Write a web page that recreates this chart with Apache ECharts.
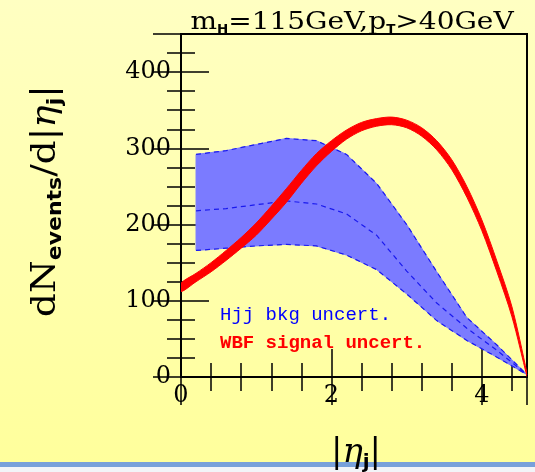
<!DOCTYPE html>
<html>
<head>
<meta charset="utf-8">
<script src="https://cdn.jsdelivr.net/npm/echarts@6/dist/echarts.min.js"></script>
<style>
  html, body { margin: 0; padding: 0; }
  #chart {
    width: 535px; height: 472px;
    background: linear-gradient(to bottom, #FFFFC2 0px, #FFFF9C 462px, #78A0DA 462px, #78A0DA 467px, #F2F4F8 467px);
  }
</style>
</head>
<body>
<div id="chart"></div>
<script>
// |eta_j| sample points of the WBF signal band
const etaSig = [0, 0.2, 0.4, 0.6, 0.8, 1.0, 1.2, 1.4, 1.6, 1.8, 2.0, 2.2, 2.4, 2.6, 2.8, 3.0, 3.2, 3.4, 3.6, 3.8, 4.0, 4.2, 4.4, 4.6];
const sigLow  = [112, 125, 138, 153, 169, 186, 207, 229, 254, 277, 296, 312, 323, 329, 331, 327, 316, 298, 272, 236, 192, 138, 79, 1];
const sigHigh = [123, 136, 150, 166, 183, 202, 224, 247, 271, 293, 310, 324, 334, 339, 341, 337, 327, 310, 285, 250, 206, 152, 92, 5];

// |eta_j| sample points of the Hjj background band
const etaBkg  = [0.2, 0.6, 1.0, 1.4, 1.8, 2.2, 2.6, 3.0, 3.4, 3.8, 4.2, 4.6];
const bkgHigh = [292, 297, 305, 313, 310, 292, 254, 200, 138, 78, 42, 3];
const bkgMid  = [218, 221, 226, 231, 227, 214, 186, 139, 97, 64, 35, 3];
const bkgLow  = [166, 169, 172, 174, 172, 160, 141, 109, 74, 48, 26, 3];

// labelled ticks
const xTickLabels = [0, 2, 4];
const yTickLabels = [0, 100, 200, 300, 400];

const X_MAX = 4.6, Y_MAX = 450;
const SERIF = 'DejaVu Serif';

const pairs = (xs, ys) => ys.map((v, i) => [xs[i], v]);

function xAxisDef(position, interval, len, showLabels) {
  return {
    type: 'value', gridIndex: 0, position, min: 0, max: X_MAX, interval,
    axisLine: { show: false }, splitLine: { show: false },
    axisTick: { show: true, inside: true, length: len, lineStyle: { color: '#000', width: 1.5 } },
    axisLabel: showLabels ? {
      show: true, margin: 7, color: '#000', fontFamily: SERIF, fontSize: 24,
      formatter: v => xTickLabels.includes(v) ? String(v) : ''
    } : { show: false }
  };
}
function yAxisDef(position, interval, len, showLabels) {
  return {
    type: 'value', gridIndex: 0, position, min: 0, max: Y_MAX, interval,
    axisLine: { show: false }, splitLine: { show: false },
    axisTick: { show: true, inside: true, length: len, lineStyle: { color: '#000', width: 1.5 } },
    axisLabel: showLabels ? {
      show: true, margin: 10, color: '#000', fontFamily: SERIF, fontSize: 24,
      formatter: v => yTickLabels.includes(v) ? String(v) : ''
    } : { show: false }
  };
}

// filled band between a lower and an upper curve, drawn as one polygon
function bandSeries(name, xs, lo, hi, fill, smooth, z) {
  return {
    type: 'custom', name, coordinateSystem: 'cartesian2d', xAxisIndex: 0, yAxisIndex: 0,
    z, silent: true, clip: true,
    data: xs.map((x, i) => [x, lo[i], hi[i]]),
    encode: { x: 0, y: [1, 2] },
    renderItem: (params, api) => {
      if (params.dataIndex !== 0) return null;
      const upper = xs.map((x, i) => api.coord([x, hi[i]]));
      const lower = xs.map((x, i) => api.coord([x, lo[i]])).reverse();
      return {
        type: 'polygon',
        shape: { points: upper.concat(lower), smooth },
        style: { fill, stroke: fill, lineWidth: 1 }
      };
    }
  };
}

const dashed = (ys, name) => ({
  type: 'line', name, data: pairs(etaBkg, ys), symbol: 'none', z: 3, silent: true,
  lineStyle: { color: '#1A1AEE', width: 1.2, type: [5, 4] }
});

const chart = echarts.init(document.getElementById('chart'), null, { renderer: 'canvas' });

chart.setOption({
  backgroundColor: 'transparent',
  animation: false,
  grid: {
    left: 181, top: 34, right: 8, bottom: 95,
    show: true, borderColor: '#000', borderWidth: 2, backgroundColor: 'transparent'
  },
  xAxis: [
    xAxisDef('bottom', 0.4, 14, false),
    xAxisDef('bottom', 2, 28, true),
    xAxisDef('top', 0.4, 14, false),
    xAxisDef('top', 2, 28, false)
  ],
  yAxis: [
    yAxisDef('left', 25, 14, false),
    yAxisDef('left', 100, 28, true),
    yAxisDef('right', 25, 14, false),
    yAxisDef('right', 100, 28, false)
  ],
  series: [
    // Hjj background uncertainty band and its three dashed curves
    bandSeries('bkgBand', etaBkg, bkgLow, bkgHigh, '#7B7BFF', 0, 2),
    dashed(bkgHigh, 'bkgHigh'),
    dashed(bkgMid, 'bkgMid'),
    dashed(bkgLow, 'bkgLow'),
    // WBF signal uncertainty band
    bandSeries('sigBand', etaSig, sigLow, sigHigh, '#FF0000', 0.3, 4)
  ],
  graphic: [
    {
      type: 'text', x: 352, y: 22, z: 10, scaleX: 1.12,
      style: {
        text: '{n|m}{s|H}{n|=115GeV,p}{s|T}{n|>40GeV}',
        fill: '#000', align: 'center', verticalAlign: 'middle',
        rich: {
          n: { fontFamily: SERIF, fontSize: 25, lineHeight: 28, color: '#000' },
          s: { fontFamily: 'DejaVu Sans', fontWeight: 'bold', fontSize: 12, lineHeight: 12, verticalAlign: 'bottom', color: '#000' }
        }
      }
    },
    {
      type: 'text', x: 46, y: 201, rotation: Math.PI / 2, scaleX: 1.1, z: 10,
      style: {
        text: '{n|dN}{s|events}{n|/d|}{i|η}{s|j}{n||}',
        fill: '#000', align: 'center', verticalAlign: 'middle',
        rich: {
          n: { fontFamily: SERIF, fontSize: 34, lineHeight: 40, color: '#000' },
          i: { fontFamily: SERIF, fontStyle: 'italic', fontSize: 34, lineHeight: 40, color: '#000' },
          s: { fontFamily: 'DejaVu Sans', fontWeight: 'bold', fontSize: 20, lineHeight: 28, verticalAlign: 'bottom', color: '#000' }
        }
      }
    },
    {
      type: 'text', x: 356, y: 453, z: 10,
      style: {
        text: '{n||}{i|η}{s|j}{n||}',
        fill: '#000', align: 'center', verticalAlign: 'middle',
        rich: {
          n: { fontFamily: SERIF, fontSize: 34, lineHeight: 40, color: '#000' },
          i: { fontFamily: SERIF, fontStyle: 'italic', fontSize: 34, lineHeight: 40, color: '#000' },
          s: { fontFamily: 'DejaVu Sans', fontWeight: 'bold', fontSize: 20, lineHeight: 20, verticalAlign: 'bottom', color: '#000' }
        }
      }
    },
    {
      type: 'text', x: 220, y: 315, z: 10,
      style: {
        text: 'Hjj bkg uncert.', fill: '#0000FF',
        font: '19px "Liberation Mono"', align: 'left', verticalAlign: 'middle'
      }
    },
    {
      type: 'text', x: 220, y: 343, z: 10,
      style: {
        text: 'WBF signal uncert.', fill: '#FF0000',
        font: 'bold 19px "Liberation Mono"', align: 'left', verticalAlign: 'middle'
      }
    }
  ]
});
</script>
</body>
</html>
